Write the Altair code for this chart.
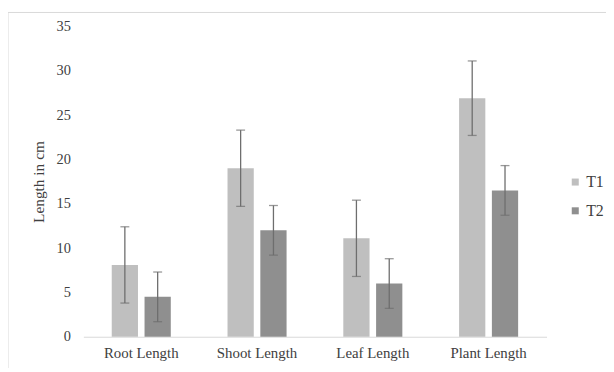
import altair as alt
import pandas as pd

categories = ["Root Length", "Shoot Length", "Leaf Length", "Plant Length"]
series = ["T1", "T2"]
t1_values = [8.1, 19.0, 11.1, 26.9]
t1_errors = [4.3, 4.3, 4.3, 4.2]
t2_values = [4.5, 12.0, 6.0, 16.5]
t2_errors = [2.8, 2.8, 2.8, 2.8]
y_ticks = [0, 5, 10, 15, 20, 25, 30, 35]

rows = []
for i, c in enumerate(categories):
    rows.append({"cat": c, "series": "T1", "value": t1_values[i],
                 "lo": t1_values[i] - t1_errors[i], "hi": t1_values[i] + t1_errors[i]})
    rows.append({"cat": c, "series": "T2", "value": t2_values[i],
                 "lo": t2_values[i] - t2_errors[i], "hi": t2_values[i] + t2_errors[i]})
df = pd.DataFrame(rows)

FONT = "Liberation Serif"
W, H = 467, 313

x_enc = alt.X("cat:N", sort=categories, title=None,
              scale=alt.Scale(paddingInner=0.49, paddingOuter=0.245),
              axis=alt.Axis(labelAngle=0, labelFont=FONT, labelFontSize=15,
                            labelColor="#404040", labelPadding=9, ticks=False,
                            domainColor="#D9D9D9", domainWidth=1))
xoff = alt.XOffset("series:N", sort=series, scale=alt.Scale(paddingInner=0.2, paddingOuter=0))
y_scale = alt.Scale(domain=[0, 35], nice=False)

bars = alt.Chart(df).mark_bar().encode(
    x=x_enc,
    xOffset=xoff,
    y=alt.Y("value:Q", scale=y_scale, title="Length in cm",
            axis=alt.Axis(values=y_ticks, grid=False, domain=False, ticks=False,
                          labelFont=FONT, labelFontSize=14.5, labelColor="#404040",
                          labelPadding=13, titleFont=FONT, titleFontSize=15.5,
                          titleFontWeight="normal", titleColor="#404040",
                          titlePadding=10)),
    color=alt.Color("series:N", sort=series,
                    scale=alt.Scale(domain=series, range=["#BFBFBF", "#8F8F8F"]),
                    legend=alt.Legend(title=None, orient="none", legendX=488, legendY=149,
                                      symbolType="square", symbolSize=50,
                                      symbolStrokeWidth=0, labelFont=FONT,
                                      labelFontSize=16, labelColor="#404040",
                                      rowPadding=13, labelOffset=3)),
)

rules = alt.Chart(df).mark_rule(color="#6E6E6E", strokeWidth=1.3).encode(
    x=alt.X("cat:N", sort=categories),
    xOffset=xoff,
    y=alt.Y("lo:Q", scale=y_scale),
    y2="hi:Q",
)
caps_hi = alt.Chart(df).mark_tick(color="#6E6E6E", thickness=1.3, size=9).encode(
    x=alt.X("cat:N", sort=categories),
    xOffset=xoff,
    y=alt.Y("hi:Q", scale=y_scale),
)
caps_lo = alt.Chart(df).mark_tick(color="#6E6E6E", thickness=1.3, size=9).encode(
    x=alt.X("cat:N", sort=categories),
    xOffset=xoff,
    y=alt.Y("lo:Q", scale=y_scale),
)

border_top = alt.Chart(pd.DataFrame({"a": [0]})).mark_rule(color="#D9D9D9", clip=False).encode(
    x=alt.value(-76), x2=alt.value(W + 80), y=alt.value(-14))
border_left = alt.Chart(pd.DataFrame({"a": [0]})).mark_rule(color="#D9D9D9", clip=False).encode(
    x=alt.value(-76), y=alt.value(-14), y2=alt.value(H + 40))

chart = alt.layer(border_top, border_left, bars, rules, caps_hi, caps_lo).properties(
    width=W, height=H,
    autosize=alt.AutoSizeParams(type="none"),
    padding={"left": 76, "top": 17, "right": 60, "bottom": 30},
    background="white",
).configure_view(stroke=None)

chart.save("out.html", embed_options={"renderer": "svg", "actions": False})
